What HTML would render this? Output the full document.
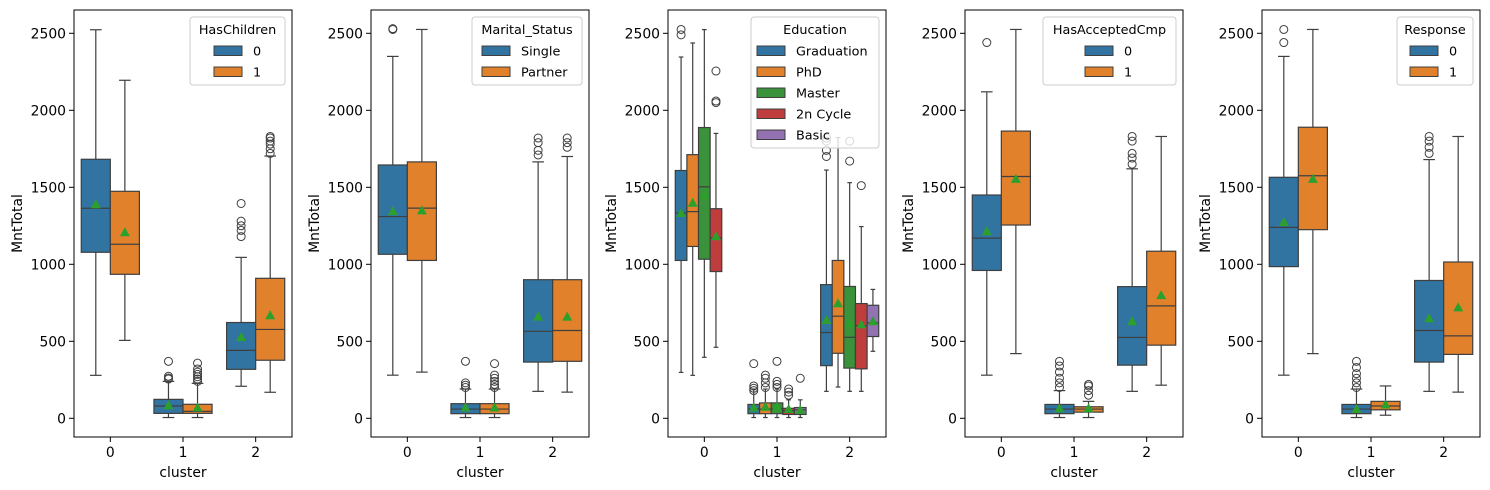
<!DOCTYPE html>
<html><head><meta charset="utf-8">
<style>
body{margin:0;background:#fff;}
svg{display:block;font-family:"DejaVu Sans","Liberation Sans",sans-serif;}
</style></head>
<body>
<svg id="chart" width="1490" height="490" xmlns="http://www.w3.org/2000/svg"></svg>
<script>
// ---- data ----
const clusters = ["0","1","2"];
const yTicks = [0,500,1000,1500,2000,2500];
const panelTitles = ["HasChildren","Marital_Status","Education","HasAcceptedCmp","Response"];
const hueLabels = [["0","1"],["Single","Partner"],["Graduation","PhD","Master","2n Cycle","Basic"],["0","1"],["0","1"]];
const hueColors = ["#3274a1","#e1812c","#3a923a","#c03d3e","#9372b2"];
// stats per panel -> per cluster -> per hue: [lo, q1, med, q3, hi, mean]
const stats1 = [[[279,1078,1364,1682,2523,1390],[506,935,1130,1474,2195,1208]],
  [[5,32,80,123,240,85],[5,32,45,91,227,70]],
  [[208,318,441,622,1045,528],[169,377,577,909,1703,669]]];
const out1 = [[[],[]],[[255,273,262,370],[240,255,270,285,300,320,358]],[[1180,1220,1250,1280,1395],[1720,1750,1780,1800,1820,1830]]];
const stats2 = [[[280,1065,1310,1645,2350,1345],[300,1025,1365,1665,2525,1350]],
  [[5,30,60,95,190,70],[5,30,60,95,190,70]],
  [[175,365,565,900,1665,660],[170,370,570,900,1700,660]]];
const out2 = [[[2525,2530],[]],[[200,215,230,370],[200,220,240,260,280,355]],[[1710,1740,1790,1820],[1760,1790,1820]]];
const stats3 = [[[298,1025,1333,1609,2346,1333],[279,1116,1342,1712,2437,1400],[396,1033,1503,1888,2524,1450],[461,953,1170,1361,1850,1182],[null]],
  [[5,30,60,90,190,70],[5,30,60,100,190,75],[5,30,60,100,190,75],[5,25,50,65,120,60],[5,25,55,70,120,55]],
  [[175,342,557,868,1612,638],[203,422,663,1025,1823,747],[175,326,526,856,1530,615],[175,321,600,745,1245,610],[435,531,620,734,837,630]]];
const out3 = [[[2490,2525],[],[],[2050,2060,2255],[]],
  [[180,195,210,355],[200,230,260,280],[200,220,240,370],[150,170,190],[260]],
  [[1700,1740,1800,1820],[],[1670,1800],[1511],[]]];
const stats4 = [[[280,960,1170,1450,2120,1215],[420,1255,1570,1865,2525,1555]],
  [[5,30,60,90,180,65],[5,40,60,75,110,65]],
  [[175,345,525,855,1620,630],[215,475,730,1085,1830,800]]];
const out4 = [[[2440],[]],[[200,230,260,300,340,370],[150,180,210,220]],[[1650,1690,1720,1800,1830],[]]];
const stats5 = [[[280,985,1240,1565,2350,1275],[420,1225,1575,1890,2525,1555]],
  [[5,30,60,90,190,60],[20,55,80,110,210,90]],
  [[175,365,570,895,1680,650],[170,415,535,1015,1830,720]]];
const out5 = [[[2440,2525],[]],[[200,230,260,290,330,370],[]],[[1720,1760,1800,1830],[]]];
const allStats=[stats1,stats2,stats3,stats4,stats5];
const allOut=[out1,out2,out3,out4,out5];
const legendBoxes=[[190,17,95,214],[472,17,110,482],[751,17,128,757],[1043,17,133,1085],[1397,17,76,1410]];

const svg=document.getElementById('chart');
const NS="http://www.w3.org/2000/svg";
function mk(tag,attrs,parent){const e=document.createElementNS(NS,tag);for(const k in attrs)e.setAttribute(k,attrs[k]);(parent||svg).appendChild(e);return e;}
const panelX=[74,371,668,965,1262], PW=218, plotTop=10, plotBot=437;
function yScale(v){return 418.3-v*0.154;}
const dark="#3f3f3f";
const FS=13.9, LFS=12.8;

panelX.forEach((px,p)=>{
  const g=mk('g',{});
  
  
  const xC=i=>px+PW*(i+0.5)/3;
  const nh=hueLabels[p].length, bw=PW/3*0.8/nh;
  clusters.forEach((c,ci)=>{
    for(let h=0;h<nh;h++){
      const s=allStats[p][ci][h]; if(!s||s[0]==null) continue;
      const cx=xC(ci)-PW/3*0.4+bw*(h+0.5);
      const bg=mk('g',{},g);
      
      
      const cap=bw*0.4;
      mk('line',{x1:cx,x2:cx,y1:yScale(s[0]),y2:yScale(s[1]),stroke:dark,'stroke-width':1.2},bg);
      mk('line',{x1:cx,x2:cx,y1:yScale(s[3]),y2:yScale(s[4]),stroke:dark,'stroke-width':1.2},bg);
      mk('line',{x1:cx-cap/2,x2:cx+cap/2,y1:yScale(s[0]),y2:yScale(s[0]),stroke:dark,'stroke-width':1.2},bg);
      mk('line',{x1:cx-cap/2,x2:cx+cap/2,y1:yScale(s[4]),y2:yScale(s[4]),stroke:dark,'stroke-width':1.2},bg);
      mk('rect',{x:cx-bw/2,y:yScale(s[3]),width:bw,height:yScale(s[1])-yScale(s[3]),fill:hueColors[h],stroke:dark,'stroke-width':1.2},bg);
      mk('line',{x1:cx-bw/2,x2:cx+bw/2,y1:yScale(s[2]),y2:yScale(s[2]),stroke:dark,'stroke-width':1.2},bg);
      const my=yScale(s[5]);
      mk('polygon',{points:`${cx},${my-5} ${cx-5},${my+4} ${cx+5},${my+4}`,fill:"#2ca02c"},bg);
      (allOut[p][ci][h]||[]).forEach(o=>{
        const oc=mk('circle',{cx:cx,cy:yScale(o),r:4,fill:'none',stroke:dark,'stroke-width':1},bg);
        
        
      });
    }
  });
  mk('rect',{x:px,y:plotTop,width:PW,height:plotBot-plotTop,fill:'none',stroke:'#000','stroke-width':1},g);
  yTicks.forEach(t=>{
    const y=yScale(t);
    mk('line',{x1:px-5,x2:px,y1:y,y2:y,stroke:'#000'},g);
    const tx=mk('text',{x:px-8,y:y+5,'text-anchor':'end','font-size':FS,fill:'#000'},g);
    tx.textContent=t;
    
    
  });
  clusters.forEach((c,ci)=>{
    const x=xC(ci);
    mk('line',{x1:x,x2:x,y1:plotBot,y2:plotBot+5,stroke:'#000'},g);
    const tx=mk('text',{x:x,y:plotBot+20,'text-anchor':'middle','font-size':FS,fill:'#000'},g);
    tx.textContent=c;
    
    
  });
  const xl=mk('text',{x:px+PW/2,y:477,'text-anchor':'middle','font-size':FS},g);
  xl.textContent='cluster';
  
  
  const yl=mk('text',{x:0,y:0,transform:`translate(${px-52},${(plotTop+plotBot)/2}) rotate(-90)`,'text-anchor':'middle','font-size':FS},g);
  yl.textContent='MntTotal';
  
  
  const [lx,ly,lw,ex]=legendBoxes[p];
  const lg=mk('g',{},g);
  
  
  mk('rect',{x:lx,y:ly,width:lw,height:26+nh*21,rx:3,fill:'#fff','fill-opacity':0.8,stroke:'#ccc'},lg);
  const lt=mk('text',{x:lx+lw/2,y:ly+17,'text-anchor':'middle','font-size':LFS},lg);
  lt.textContent=panelTitles[p];
  hueLabels[p].forEach((h,i)=>{
    const ey=ly+34+i*21;
    const e=mk('g',{},lg);
    
    
    mk('rect',{x:ex,y:ey-5,width:28,height:9.5,fill:hueColors[i],stroke:dark,'stroke-width':1},e);
    const t=mk('text',{x:ex+39,y:ey+4.5,'font-size':LFS},e);
    t.textContent=h;
  });
});
</script>
</body></html>
